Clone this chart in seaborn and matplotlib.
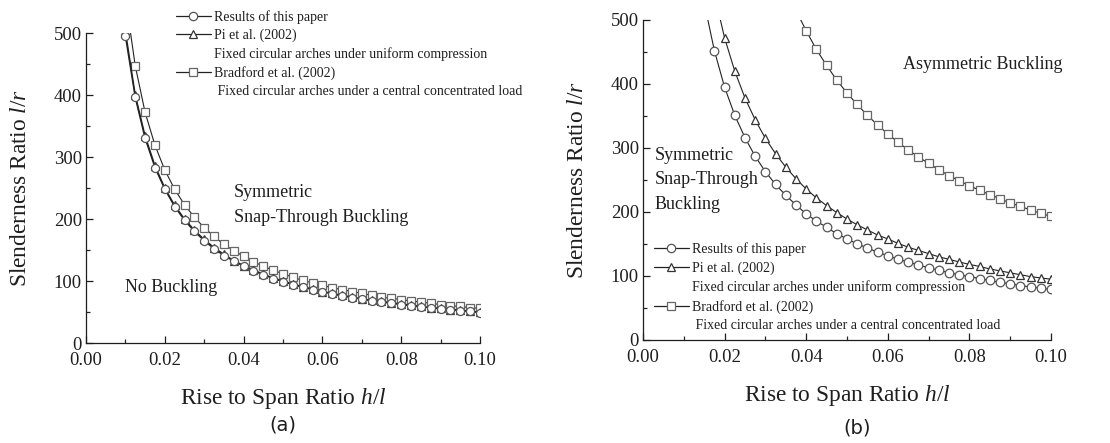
import numpy as np
import pandas as pd
import matplotlib
matplotlib.use("Agg")
import matplotlib.pyplot as plt
from matplotlib.lines import Line2D
from matplotlib.ticker import MultipleLocator, FormatStrFormatter
import seaborn as sns

# values
x_a = [0.01, 0.0125, 0.015, 0.0175, 0.02, 0.0225, 0.025, 0.0275, 0.03, 0.0325,
       0.035, 0.0375, 0.04, 0.0425, 0.045, 0.0475, 0.05, 0.0525, 0.055, 0.0575,
       0.06, 0.0625, 0.065, 0.0675, 0.07, 0.0725, 0.075, 0.0775, 0.08, 0.0825,
       0.085, 0.0875, 0.09, 0.0925, 0.095, 0.0975, 0.1]
paper_a = [495, 396, 330, 283, 248, 220, 198, 180, 165, 152,
           141, 132, 124, 116, 110, 104, 99, 94, 90, 86,
           83, 79, 76, 73, 71, 68, 66, 64, 62, 60,
           58, 57, 55, 54, 52, 51, 49]
pi_a = [503, 400, 334, 286, 250, 222, 200, 182, 167, 154,
        143, 133, 125, 118, 111, 105, 100, 95, 91, 87,
        83, 80, 77, 74, 71, 69, 67, 65, 63, 61,
        59, 57, 56, 54, 53, 51, 50]
bradford_a = [558, 447, 372, 319, 279, 248, 223, 203, 186, 172,
              159, 149, 140, 131, 124, 117, 112, 106, 101, 97,
              93, 89, 86, 83, 80, 77, 74, 72, 70, 68,
              66, 64, 62, 60, 59, 57, 56]

x_b_paper = [0.015, 0.0175, 0.02, 0.0225, 0.025, 0.0275, 0.03, 0.0325, 0.035,
             0.0375, 0.04, 0.0425, 0.045, 0.0475, 0.05, 0.0525, 0.055, 0.0575,
             0.06, 0.0625, 0.065, 0.0675, 0.07, 0.0725, 0.075, 0.0775, 0.08,
             0.0825, 0.085, 0.0875, 0.09, 0.0925, 0.095, 0.0975, 0.1]
paper_b = [527, 452, 395, 351, 316, 287, 263, 243, 226,
           211, 197, 186, 176, 166, 158, 150, 144, 137,
           132, 126, 122, 117, 113, 109, 105, 102, 99,
           96, 93, 90, 88, 85, 83, 81, 79]
x_b_pi = [0.0175, 0.02, 0.0225, 0.025, 0.0275, 0.03, 0.0325, 0.035,
          0.0375, 0.04, 0.0425, 0.045, 0.0475, 0.05, 0.0525, 0.055, 0.0575,
          0.06, 0.0625, 0.065, 0.0675, 0.07, 0.0725, 0.075, 0.0775, 0.08,
          0.0825, 0.085, 0.0875, 0.09, 0.0925, 0.095, 0.0975, 0.1]
pi_b = [540, 472, 420, 378, 344, 315, 291, 270,
        252, 236, 222, 210, 199, 189, 180, 172, 164,
        158, 151, 145, 140, 135, 130, 126, 122, 118,
        115, 111, 108, 105, 102, 99, 97, 95]
x_b_bradford = [0.0375, 0.04, 0.0425, 0.045, 0.0475, 0.05, 0.0525, 0.055, 0.0575,
                0.06, 0.0625, 0.065, 0.0675, 0.07, 0.0725, 0.075, 0.0775, 0.08,
                0.0825, 0.085, 0.0875, 0.09, 0.0925, 0.095, 0.0975, 0.1]
bradford_b = [515, 483, 454, 429, 406, 386, 368, 351, 336,
              322, 309, 297, 286, 276, 266, 257, 249, 241,
              234, 227, 221, 214, 209, 203, 198, 193]

legend_labels = ["Results of this paper", "Pi et al. (2002)",
                 "Fixed circular arches under uniform compression",
                 "Bradford et al. (2002)",
                 " Fixed circular arches under a central concentrated load"]

sns.set_theme(style="ticks")
plt.rcParams["font.family"] = ["Liberation Serif", "DejaVu Serif"]
plt.rcParams["mathtext.fontset"] = "custom"
plt.rcParams["mathtext.rm"] = "Liberation Serif"
plt.rcParams["mathtext.it"] = "Liberation Serif:italic"

INK = "#1e1e1e"
styles = {
    "o": dict(marker="o", markeredgecolor="#555555"),
    "^": dict(marker="^", markeredgecolor="#333333"),
    "s": dict(marker="s", markeredgecolor="#666666"),
}


def draw_series(ax, x, y, key, lw=0.9, ms=6.0, color="#222222"):
    sns.lineplot(x=x, y=y, ax=ax, color=color, linewidth=lw, markersize=ms,
                 markerfacecolor="white", markeredgewidth=0.9, legend=False,
                 estimator=None, sort=False, **styles[key])


def style_axes(ax):
    ax.set_xlim(0, 0.1)
    ax.set_ylim(0, 500)
    ax.xaxis.set_major_locator(MultipleLocator(0.02))
    ax.xaxis.set_minor_locator(MultipleLocator(0.01))
    ax.yaxis.set_major_locator(MultipleLocator(100))
    ax.yaxis.set_minor_locator(MultipleLocator(50))
    ax.xaxis.set_major_formatter(FormatStrFormatter("%.2f"))
    ax.tick_params(which="major", direction="in", length=5, width=0.9,
                   labelsize=13.4, colors=INK, pad=3)
    ax.tick_params(axis="x", which="major", pad=6.5)
    ax.tick_params(which="minor", direction="in", length=3, width=0.9)
    for s in ["left", "bottom"]:
        ax.spines[s].set_color(INK)
        ax.spines[s].set_linewidth(0.9)
    sns.despine(ax=ax)
    ax.set_xlabel("Rise to Span Ratio $h/l$", fontsize=16.8, labelpad=12, color=INK)
    ax.set_ylabel("Slenderness Ratio $l/r$", fontsize=16.8, labelpad=16, color=INK)


def make_handles():
    h = []
    for key in ["o", "^", None, "s", None]:
        if key is None:
            h.append(Line2D([], [], color="none"))
        else:
            h.append(Line2D([], [], color="#222222", linewidth=0.9, markersize=6,
                            markerfacecolor="white", markeredgewidth=0.9,
                            **styles[key]))
    return h


fig = plt.figure(figsize=(11.1, 4.43), dpi=100)
ax1 = fig.add_axes([86 / 1110, 1 - 343 / 443, 394 / 1110, 310 / 443])
ax2 = fig.add_axes([643 / 1110, 1 - 340 / 443, 408 / 1110, 320 / 443])

# panel (a)
draw_series(ax1, x_a, bradford_a, "s", lw=0.8, ms=5.8)
draw_series(ax1, x_a, pi_a, "^", lw=1.0, ms=5.8)
draw_series(ax1, x_a, paper_a, "o", lw=1.0, ms=5.8)
style_axes(ax1)
txt = dict(fontsize=13, va="center", color=INK)
ax1.text(0.0376, 242, "Symmetric", **txt)
ax1.text(0.0376, 203, "Snap-Through Buckling", **txt)
ax1.text(0.0099, 89, "No Buckling", **txt)

# panel (b)
draw_series(ax2, x_b_bradford, bradford_b, "s", lw=0.8, ms=6.2)
draw_series(ax2, x_b_pi, pi_b, "^", lw=0.8, ms=6.2)
draw_series(ax2, x_b_paper, paper_b, "o", lw=0.8, ms=6.2)
style_axes(ax2)
ax2.text(0.0637, 430, "Asymmetric Buckling", clip_on=False, **txt)
ax2.text(0.0029, 289, "Symmetric", **txt)
ax2.text(0.0029, 250, "Snap-Through", **txt)
ax2.text(0.0029, 212, "Buckling", **txt)

for anchor, spacing in [((176 / 1110, 1 - 10 / 443), 0.36),
                        ((654 / 1110, 1 - 242 / 443), 0.40)]:
    fig.legend(make_handles(), legend_labels, loc="upper left", bbox_to_anchor=anchor,
               frameon=False, fontsize=10, handlelength=2.5, handletextpad=0.2,
               labelspacing=spacing, borderpad=0, borderaxespad=0, labelcolor=INK)

fig.text(283 / 1110, 1 - 425 / 443, "(a)", fontsize=14, family="DejaVu Sans",
         ha="center", va="center", color=INK)
fig.text(857 / 1110, 1 - 428 / 443, "(b)", fontsize=14, family="DejaVu Sans",
         ha="center", va="center", color=INK)

fig.savefig("out.png", dpi=100)
